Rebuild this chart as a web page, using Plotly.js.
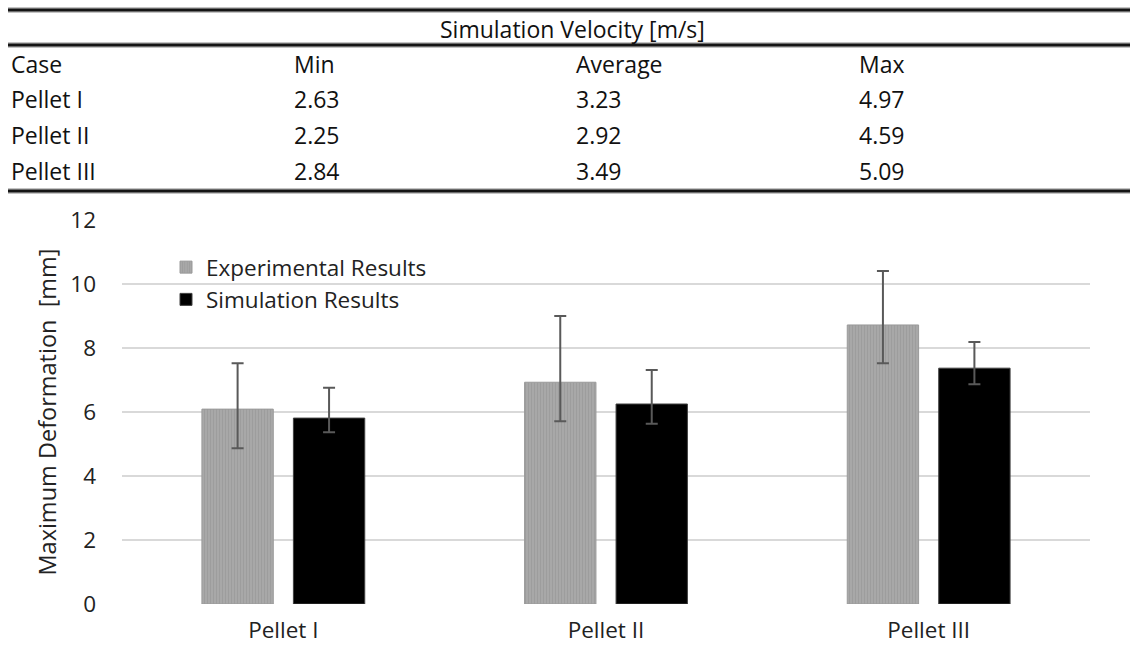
<!DOCTYPE html>
<html>
<head>
<meta charset="utf-8">
<script src="https://cdn.plot.ly/plotly-3.0.1.min.js"></script>
<style>
  html, body { margin: 0; padding: 0; background: #fff; }
  #chart { width: 1130px; height: 651px; }
</style>
</head>
<body>
<div id="chart"></div>
<script>
// Bar chart categories
const cases = ['Pellet I', 'Pellet II', 'Pellet III'];

// Maximum deformation [mm]
const expValues = [6.09, 6.93, 8.72];
const expErrPlus = [1.43, 2.07, 1.69];
const expErrMinus = [1.22, 1.22, 1.20];

const simValues = [5.81, 6.25, 7.37];
const simErrPlus = [0.95, 1.06, 0.82];
const simErrMinus = [0.44, 0.62, 0.50];

// Simulation velocity table [m/s]
const tableTitle = 'Simulation Velocity [m/s]';
const tableHeader = ['Case', 'Min', 'Average', 'Max'];
const velMin = [2.63, 2.25, 2.84];
const velAvg = [3.23, 2.92, 3.49];
const velMax = [4.97, 4.59, 5.09];

const yTicks = [0, 2, 4, 6, 8, 10, 12];

const W = 1130, H = 651;
const M = { l: 122, r: 40, t: 220, b: 47 };
const FONT = '"Open Sans", sans-serif';

// pixel -> paper helpers for the table drawn above the plot area
const px = x => (x - M.l) / (W - M.l - M.r);
const py = y => (H - M.b - y) / (H - M.t - M.b);

const traces = [
  {
    type: 'bar', name: 'Experimental Results', x: cases, y: expValues,
    marker: {
      color: '#a6a6a6',
      line: { color: '#9a9a9a', width: 1 },
      pattern: { shape: '|', fgcolor: '#999999', bgcolor: '#a8a8a8', size: 3, solidity: 0.25 }
    },
    error_y: { type: 'data', symmetric: false, array: expErrPlus, arrayminus: expErrMinus,
               color: '#595959', thickness: 2, width: 6 }
  },
  {
    type: 'bar', name: 'Simulation Results', x: cases, y: simValues,
    marker: { color: '#000000', line: { color: '#404040', width: 1 } },
    error_y: { type: 'data', symmetric: false, array: simErrPlus, arrayminus: simErrMinus,
               color: '#595959', thickness: 2, width: 6 }
  }
];

// table text
const annotations = [];
const colX = [9, 292, 574, 857];
const rowY = [64, 99, 135, 171];
annotations.push({ text: tableTitle, x: px(572), y: py(29), xanchor: 'center', yanchor: 'middle' });
tableHeader.forEach((h, i) => annotations.push({ text: h, x: px(colX[i]), y: py(rowY[0]), xanchor: 'left', yanchor: 'middle' }));
cases.forEach((c, r) => {
  const row = [c, velMin[r].toFixed(2), velAvg[r].toFixed(2), velMax[r].toFixed(2)];
  row.forEach((t, i) => annotations.push({ text: t, x: px(colX[i]), y: py(rowY[r + 1]), xanchor: 'left', yanchor: 'middle' }));
});
annotations.forEach(a => {
  a.xref = 'paper'; a.yref = 'paper'; a.showarrow = false;
  a.font = { family: FONT, size: 23, color: '#111' };
});

// table rules (double-weight lines)
const shapes = [];
[10, 45, 191].forEach(y => {
  shapes.push({ type: 'line', xref: 'paper', yref: 'paper', x0: px(8), x1: px(1130), y0: py(y), y1: py(y),
                line: { color: '#8a8a8a', width: 5 } });
  shapes.push({ type: 'line', xref: 'paper', yref: 'paper', x0: px(8), x1: px(1130), y0: py(y), y1: py(y),
                line: { color: '#151515', width: 2.5 } });
});

const layout = {
  width: W, height: H,
  margin: M,
  paper_bgcolor: '#ffffff', plot_bgcolor: '#ffffff',
  font: { family: FONT, size: 22, color: '#222' },
  barmode: 'group',
  bargap: 0.433,
  bargroupgap: 0.22,
  showlegend: true,
  legend: {
    x: px(166), y: py(246), xanchor: 'left', yanchor: 'top',
    font: { family: FONT, size: 22.5, color: '#222' },
    bgcolor: 'rgba(0,0,0,0)', itemwidth: 30, tracegroupgap: 0
  },
  xaxis: {
    type: 'category', showgrid: false, showline: false, ticks: '',
    ticklabelstandoff: 10, tickfont: { family: FONT, size: 22.5, color: '#222' }
  },
  yaxis: {
    range: [0, 12], tickvals: yTicks, showgrid: true, gridcolor: '#d9d9d9', gridwidth: 1.5,
    zeroline: false, showline: false, ticks: '', ticklabelstandoff: 25,
    tickfont: { family: FONT, size: 22.5, color: '#222' },
    title: { text: 'Maximum Deformation  [mm]', font: { family: FONT, size: 23.5, color: '#222' }, standoff: 7 }
  },
  shapes: shapes,
  annotations: annotations
};

Plotly.newPlot('chart', traces, layout, { displayModeBar: false, staticPlot: true });
</script>
</body>
</html>
